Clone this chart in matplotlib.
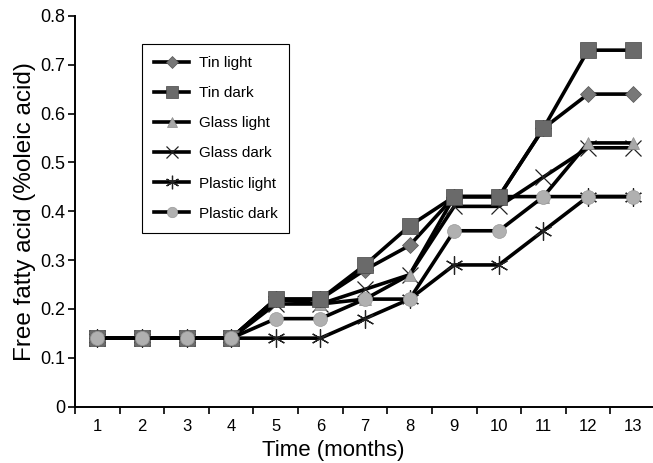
import numpy as np
import matplotlib
matplotlib.use("Agg")
import matplotlib.pyplot as plt

plt.rcParams["font.family"] = ["Liberation Sans", "DejaVu Sans"]

months = ["1", "2", "3", "4", "5", "6", "7", "8", "9", "10", "11", "12", "13"]

tin_light = [0.14, 0.14, 0.14, 0.14, 0.22, 0.22, 0.28, 0.33, 0.43, 0.43, 0.57, 0.64, 0.64]
tin_dark = [0.14, 0.14, 0.14, 0.14, 0.22, 0.22, 0.29, 0.37, 0.43, 0.43, 0.57, 0.73, 0.73]
glass_light = [0.14, 0.14, 0.14, 0.14, 0.22, 0.21, 0.22, 0.27, 0.43, 0.43, 0.43, 0.54, 0.54]
glass_dark = [0.14, 0.14, 0.14, 0.14, 0.21, 0.21, 0.24, 0.27, 0.41, 0.41, 0.47, 0.53, 0.53]
plastic_light = [0.14, 0.14, 0.14, 0.14, 0.14, 0.14, 0.18, 0.22, 0.29, 0.29, 0.36, 0.43, 0.43]
plastic_dark = [0.14, 0.14, 0.14, 0.14, 0.18, 0.18, 0.22, 0.22, 0.36, 0.36, 0.43, 0.43, 0.43]

y_ticks = [0, 0.1, 0.2, 0.3, 0.4, 0.5, 0.6, 0.7, 0.8]
y_labels = ["0", "0.1", "0.2", "0.3", "0.4", "0.5", "0.6", "0.7", "0.8"]

fig = plt.figure(figsize=(6.53, 4.63), dpi=100)
ax = fig.add_axes([75 / 653, 56.5 / 463, 580 / 653, 390.5 / 463])

x = np.arange(len(months)) + 0.5
lw = 2.6

ax.plot(x, glass_dark, color="black", lw=lw, marker="x", ms=12, mew=0.9,
        mec="#222222", label="Glass dark", zorder=3)
ax.plot(x, plastic_light, color="black", lw=lw, marker=(6, 2, 0), ms=13, mew=0.9,
        mec="#222222", label="Plastic light", zorder=3)
ax.plot(x, glass_light, color="black", lw=lw, marker="^", ms=9, mfc="#a8a8a8",
        mec="#8a8a8a", mew=0.5, label="Glass light", zorder=4)
ax.plot(x, tin_light, color="black", lw=lw, marker="D", ms=8, mfc="#787878",
        mec="#555555", mew=0.5, label="Tin light", zorder=4)
ax.plot(x, tin_dark, color="black", lw=lw, marker="s", ms=11, mfc="#6a6a6a",
        mec="#444444", mew=0.5, label="Tin dark", zorder=4)
ax.plot(x, plastic_dark, color="black", lw=lw, marker="o", ms=10, mfc="#b0b0b0",
        mec="#999999", mew=0.5, label="Plastic dark", zorder=5)

ax.set_xlim(0, len(months))
ax.set_ylim(0, 0.8)
ax.set_xticks(np.arange(len(months)))
ax.set_xticklabels([])
ax.set_xticks(x, minor=True)
ax.set_xticklabels(months, minor=True, fontsize=12)
ax.tick_params(axis="x", which="minor", length=0, pad=9)
ax.tick_params(axis="x", which="major", direction="out", length=5, width=1.2)
ax.set_yticks(y_ticks)
ax.set_yticklabels(y_labels, fontsize=13)
ax.tick_params(axis="y", direction="out", length=5, width=1.2, pad=2)

for side in ["top", "right"]:
    ax.spines[side].set_visible(False)
for side in ["left", "bottom"]:
    ax.spines[side].set_linewidth(1.4)

ax.set_xlabel("Time (months)", fontsize=16, labelpad=3)
ax.xaxis.set_label_coords(0.445, -0.085)
ax.set_ylabel("Free fatty acid (%oleic acid)", fontsize=17.5, labelpad=3)

handles, labels = ax.get_legend_handles_labels()
order = ["Tin light", "Tin dark", "Glass light", "Glass dark", "Plastic light", "Plastic dark"]
hmap = dict(zip(labels, handles))
leg = ax.legend([hmap[k] for k in order], order, loc="upper left",
                bbox_to_anchor=(0.1155, 0.928), borderaxespad=0, fontsize=11,
                labelspacing=1.05, handlelength=2.3, handletextpad=0.6,
                markerscale=0.75, fancybox=False, edgecolor="black",
                borderpad=0.8, framealpha=1)
leg.get_frame().set_linewidth(0.8)

fig.savefig("out.png", dpi=100)
